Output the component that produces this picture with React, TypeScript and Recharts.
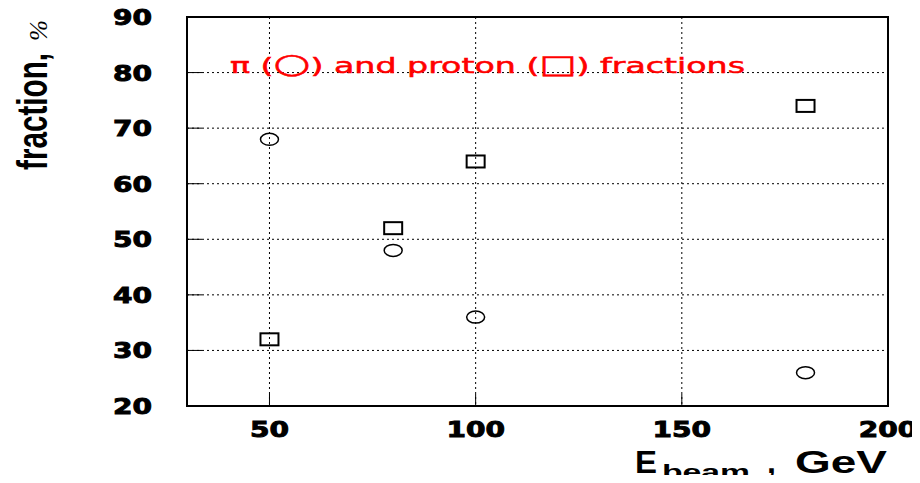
import { ScatterChart, Scatter, XAxis, YAxis, CartesianGrid, ReferenceArea } from 'recharts';

const beamEnergy = [50, 80, 100, 180];
const pionFraction = [68, 48, 36, 26];
const protonFraction = [32, 52, 64, 74];
const xTicks = [50, 100, 150, 200];
const yTicks = [20, 30, 40, 50, 60, 70, 80, 90];

const pionData = beamEnergy.map((e, i) => ({ e, f: pionFraction[i] }));
const protonData = beamEnergy.map((e, i) => ({ e, f: protonFraction[i] }));

const tickFont = '"DejaVu Sans", sans-serif';
const titleFont = '"Liberation Sans", Arial, sans-serif';

function YTick(props: any) {
  const { x, y, payload } = props;
  const label = String(payload.value);
  const inner = payload.value !== 20 && payload.value !== 90;
  return (
    <g>
      <text x={x} y={y + 8} textAnchor="end" fontFamily={tickFont} fontWeight="bold" fontSize={21}
        stroke="#000" strokeWidth={0.9}
        textLength={label.length * 19.5} lengthAdjust="spacingAndGlyphs" fill="#000">
        {label}
      </text>
      {inner && <line x1={x + 35} x2={x + 50} y1={y} y2={y} stroke="#000" strokeWidth={1} />}
    </g>
  );
}

function XTick(props: any) {
  const { x, y, payload } = props;
  const label = String(payload.value);
  const inner = payload.value !== 200;
  return (
    <g>
      <text x={x} y={y + 31} textAnchor="middle" fontFamily={tickFont} fontWeight="bold" fontSize={21}
        stroke="#000" strokeWidth={0.9}
        textLength={label.length * 19.5} lengthAdjust="spacingAndGlyphs" fill="#000">
        {label}
      </text>
      {inner && <line x1={x} x2={x} y1={y} y2={y - 12} stroke="#000" strokeWidth={1} />}
    </g>
  );
}

const circleShape = (p: any) => (
  <ellipse cx={p.cx} cy={p.cy} rx={9} ry={6} fill="none" stroke="#000" strokeWidth={1.5} />
);
const squareShape = (p: any) => (
  <rect x={p.cx - 9} y={p.cy - 6} width={18} height={12} fill="none" stroke="#000" strokeWidth={2} />
);

export default function App() {
  return (
    <div style={{ margin: -8, width: 920, height: 483, overflow: 'hidden' }}>
      <ScatterChart width={920} height={483} margin={{ top: 17, right: 32, left: 0, bottom: 0 }}>
        <CartesianGrid stroke="#000" strokeDasharray="2 3" strokeWidth={1} />
        <XAxis type="number" dataKey="e" domain={[30, 200]} ticks={xTicks} height={77}
          axisLine={false} tickLine={false} tickSize={0} tickMargin={0} tick={<XTick />} />
        <YAxis type="number" dataKey="f" domain={[20, 90]} ticks={yTicks} width={187}
          axisLine={false} tickLine={false} tickSize={0} tickMargin={35} tick={<YTick />} />
        <ReferenceArea x1={30} x2={200} y1={20} y2={90} fill="none" stroke="#000" strokeWidth={2} fillOpacity={0} />
        <Scatter data={pionData} shape={circleShape} isAnimationActive={false} />
        <Scatter data={protonData} shape={squareShape} isAnimationActive={false} />

        <text x={230} y={73} fill="#ff0000" stroke="#ff0000" strokeWidth={0.5} fontFamily={tickFont} fontSize={22}
          textLength={515} lengthAdjust="spacingAndGlyphs">
          π (<tspan fontSize={28}>○</tspan>) and proton (<tspan fontSize={26}>□</tspan>) fractions
        </text>

        <text x={635} y={473} fontFamily={titleFont} fontWeight="bold" fontSize={32}
          textLength={22} lengthAdjust="spacingAndGlyphs">E</text>
        <text x={662} y={479} fontFamily={titleFont} fontWeight="bold" fontSize={21}
          textLength={88} lengthAdjust="spacingAndGlyphs">beam</text>
        <text x={767} y={473} fontFamily={titleFont} fontWeight="bold" fontSize={32}>,</text>
        <text x={795} y={473} fontFamily={titleFont} fontWeight="bold" fontSize={32}
          textLength={92} lengthAdjust="spacingAndGlyphs">GeV</text>

        <text x={47} y={170} transform="rotate(-90, 47, 170)" fontFamily={titleFont} fontWeight="bold"
          fontSize={42} textLength={117} lengthAdjust="spacingAndGlyphs">fraction,</text>
        <text x={47} y={41} transform="rotate(-90, 47, 41)" fontFamily='"Liberation Serif", serif'
          fontStyle="italic" fontSize={26} textLength={21} lengthAdjust="spacingAndGlyphs">%</text>
      </ScatterChart>
    </div>
  );
}
